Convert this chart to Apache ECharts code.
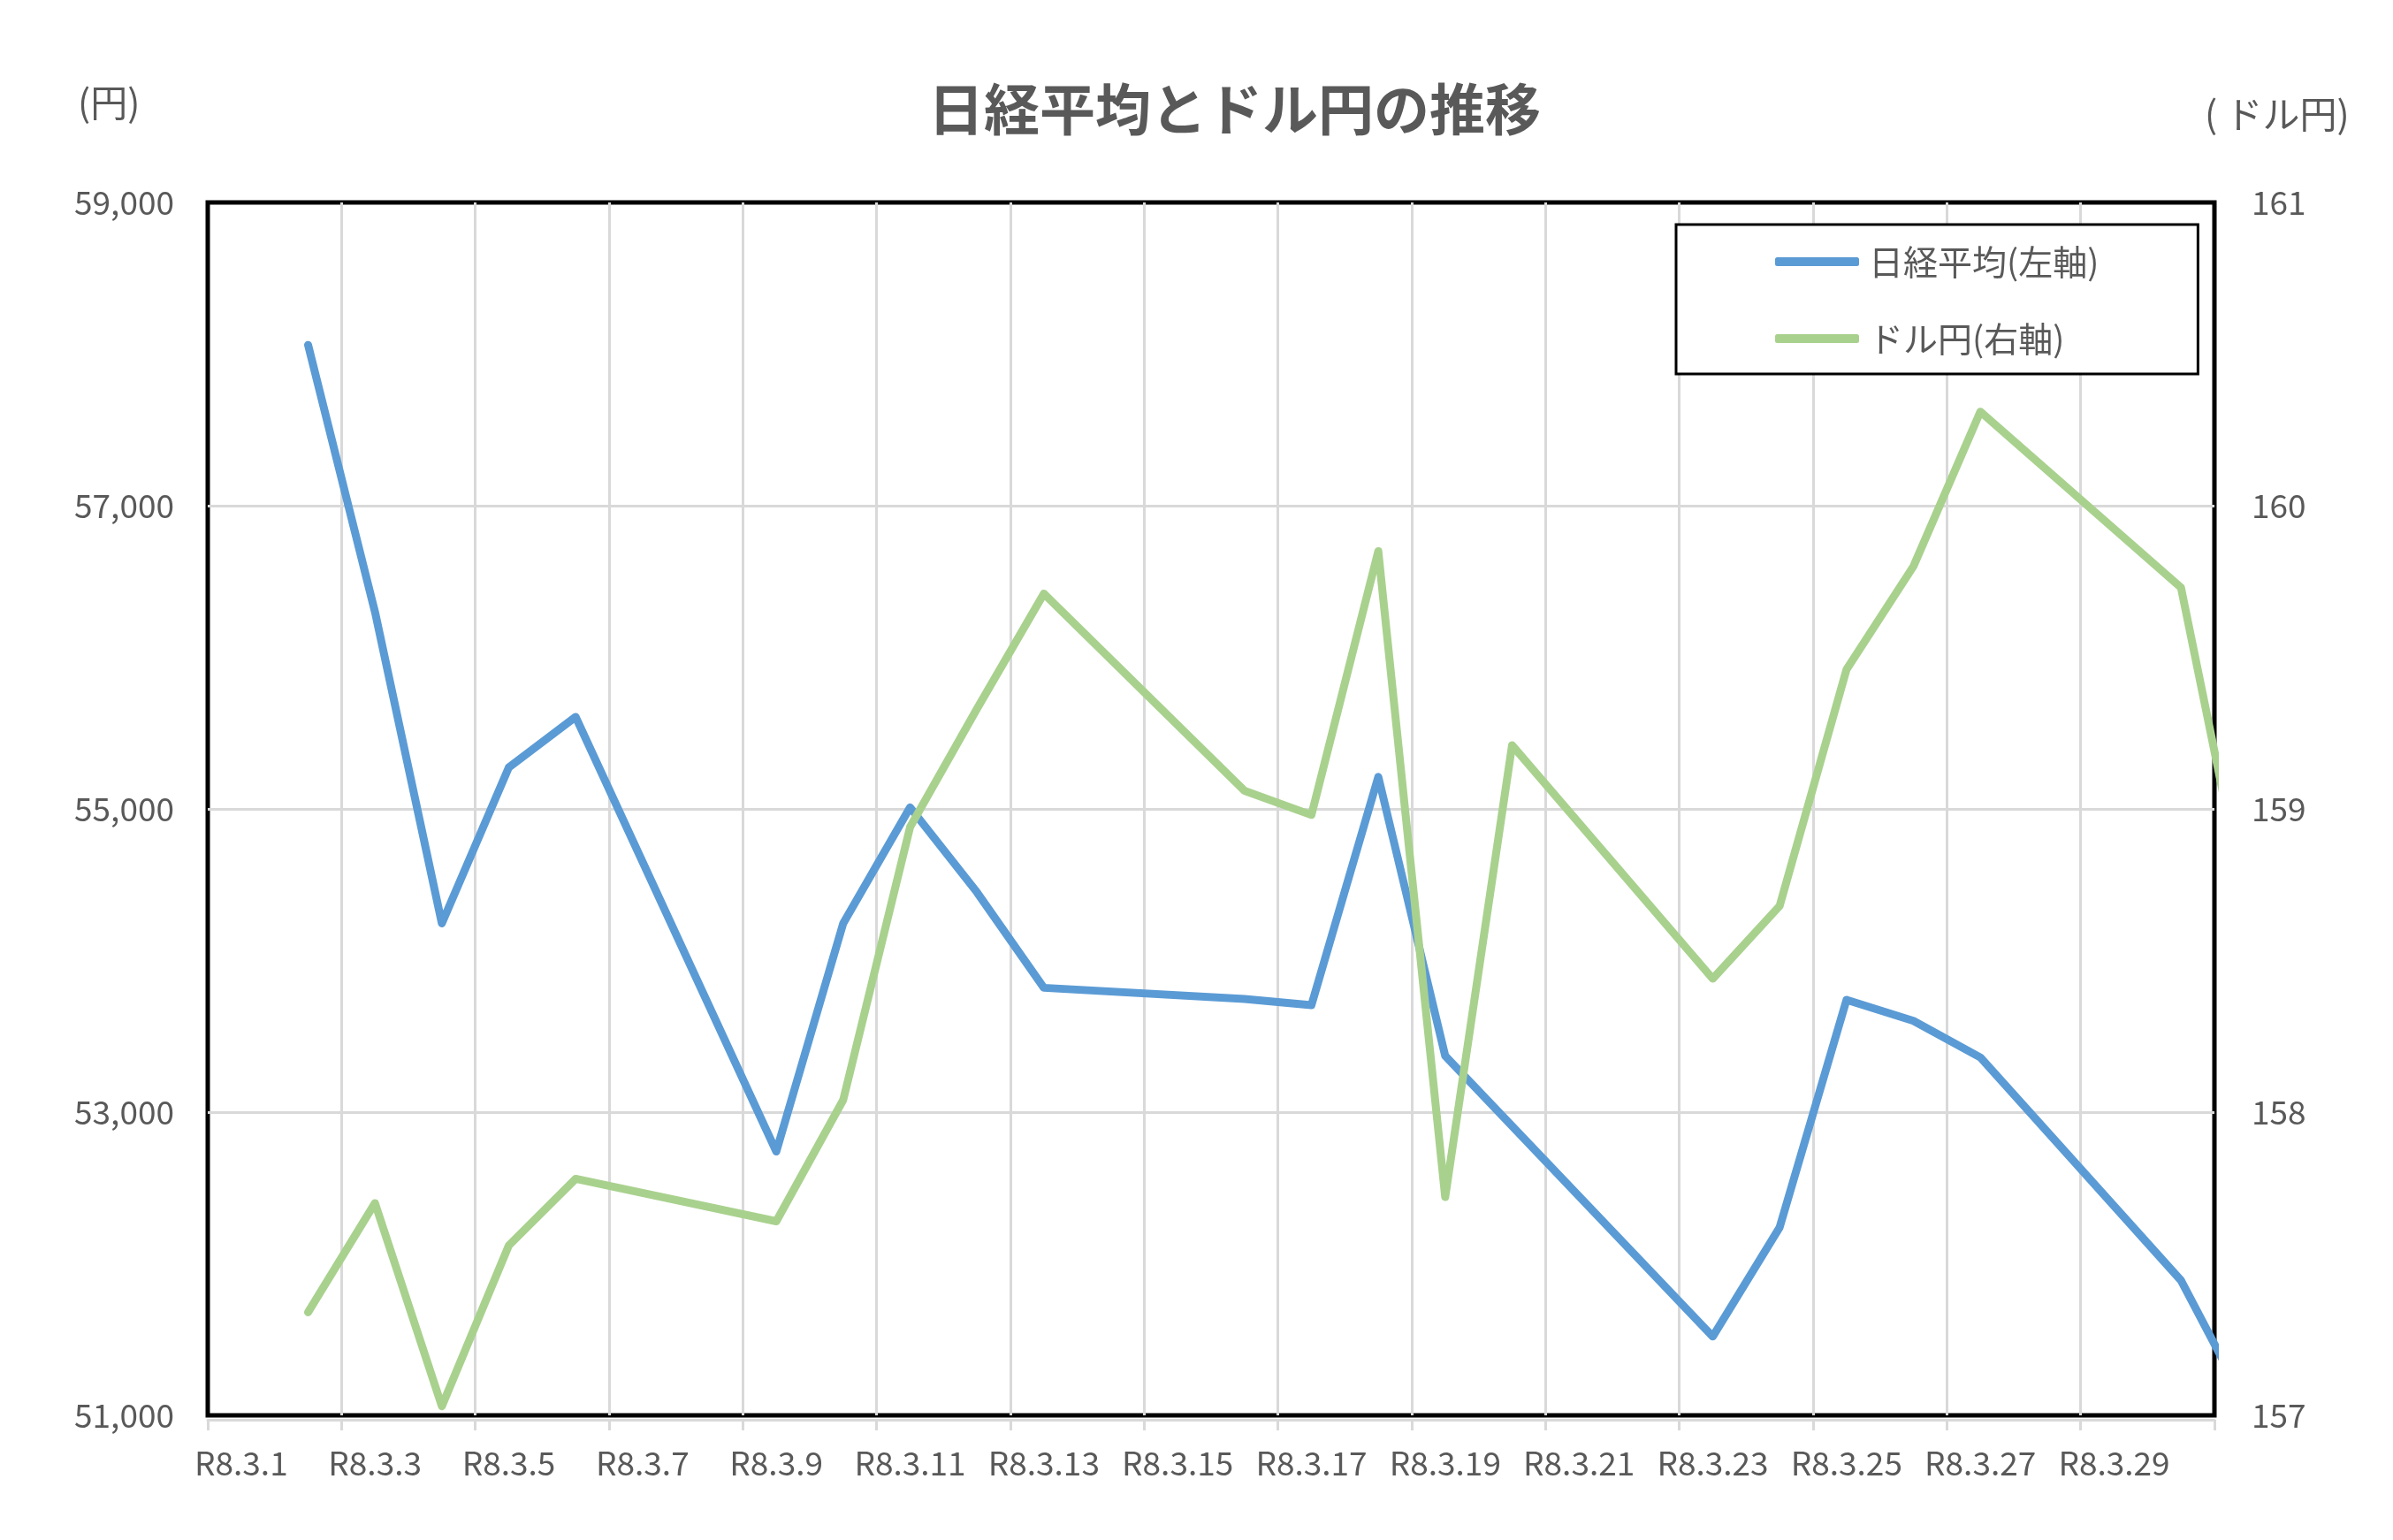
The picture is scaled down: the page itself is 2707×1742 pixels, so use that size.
<!DOCTYPE html>
<html>
<head>
<meta charset="utf-8">
<script src="https://cdn.jsdelivr.net/npm/echarts@6/dist/echarts.min.js"></script>
<style>
html,body{margin:0;padding:0;background:#fff;}
#chart{width:2707px;height:1742px;}
</style>
</head>
<body>
<div id="chart"></div>
<script>
// Categories: R8.3.1 .. R8.3.31 (axis shows up to R8.3.30; the 3/31 point runs off the right edge)
const days = [];
for (let d = 1; d <= 31; d++) days.push('R8.3.' + d);

const nikkei = [
  null, 58060, 56300, 54245, 55273, 55607, null, null, 52740, 54245,
  55010, 54450, 53820, null, null, 53746, 53705, 55211, 53371, null,
  null, null, 51520, 52240, 53741, 53602, 53361, null, null, 51890,
  51050
];
const usdjpy = [
  null, 157.34, 157.70, 157.03, 157.56, 157.78, null, null, 157.64, 158.04,
  158.94, 159.33, 159.71, null, null, 159.06, 158.98, 159.85, 157.72, 159.21,
  null, null, 158.44, 158.68, 159.46, 159.80, 160.31, null, null, 159.73,
  158.65
];
const seriesNames = ['日経平均(左軸)', 'ドル円(右軸)'];
const titleText = '日経平均とドル円の推移';
const leftUnit = '(円)';
const rightUnit = '( ドル円)';

const FONT = '"Noto Sans CJK JP", "Noto Sans", sans-serif';
const TXT = '#595959';

const chart = echarts.init(document.getElementById('chart'));
chart.setOption({
  animation: false,
  backgroundColor: '#fff',
  title: {
    text: titleText,
    left: 1050, top: 86, padding: 0,
    textStyle: {fontFamily: FONT, fontSize: 63, fontWeight: 'bold', color: TXT, lineHeight: 74}
  },
  graphic: [
    {type: 'text', left: 88, top: 95, style: {text: leftUnit, font: '42px ' + FONT, fill: TXT}},
    {type: 'text', left: 2494, top: 108, style: {text: rightUnit, font: '42px ' + FONT, fill: TXT}}
  ],
  legend: {
    orient: 'vertical',
    left: 1896, top: 254,
    padding: [20, 112, 18, 112],
    itemWidth: 95, itemHeight: 10, itemGap: 43,
    icon: 'roundRect',
    borderColor: '#000', borderWidth: 3,
    backgroundColor: '#fff',
    textStyle: {fontFamily: FONT, fontSize: 39, color: TXT, lineHeight: 44, padding: [0, 0, 0, 6]},
    data: seriesNames
  },
  grid: {
    left: 235, right: 202, top: 229, bottom: 141,
    show: true, borderColor: '#000', borderWidth: 5, backgroundColor: 'transparent'
  },
  xAxis: {
    type: 'category',
    data: days,
    max: 29,
    boundaryGap: true,
    offset: 5,
    axisLine: {show: true, lineStyle: {color: '#d9d9d9', width: 3}},
    axisTick: {show: true, interval: 1, length: 12, lineStyle: {color: '#d9d9d9', width: 3}},
    axisLabel: {interval: 1, margin: 30, fontFamily: FONT, fontSize: 37, color: TXT},
    splitLine: {show: true, interval: 1, showMinLine: false, showMaxLine: false,
      lineStyle: {color: '#d9d9d9', width: 3}}
  },
  yAxis: [
    {
      type: 'value', min: 51000, max: 59000, interval: 2000,
      axisLine: {show: false}, axisTick: {show: false},
      axisLabel: {margin: 38, fontFamily: FONT, fontSize: 37, color: TXT,
        formatter: v => v.toLocaleString('en-US')},
      splitLine: {show: true, showMinLine: false, showMaxLine: false,
        lineStyle: {color: '#d9d9d9', width: 3}}
    },
    {
      type: 'value', min: 157, max: 161, interval: 1,
      axisLine: {show: false}, axisTick: {show: false},
      axisLabel: {margin: 42, fontFamily: FONT, fontSize: 37, color: TXT},
      splitLine: {show: false}
    }
  ],
  series: [
    {
      name: seriesNames[0], type: 'line', yAxisIndex: 0, data: nikkei,
      connectNulls: true, symbol: 'none', clip: true,
      itemStyle: {color: '#5B9BD5'},
      lineStyle: {color: '#5B9BD5', width: 9, cap: 'round', join: 'round'}
    },
    {
      name: seriesNames[1], type: 'line', yAxisIndex: 1, data: usdjpy,
      connectNulls: true, symbol: 'none', clip: true,
      itemStyle: {color: '#A9D18E'},
      lineStyle: {color: '#A9D18E', width: 9, cap: 'round', join: 'round'}
    }
  ]
});
</script>
</body>
</html>
